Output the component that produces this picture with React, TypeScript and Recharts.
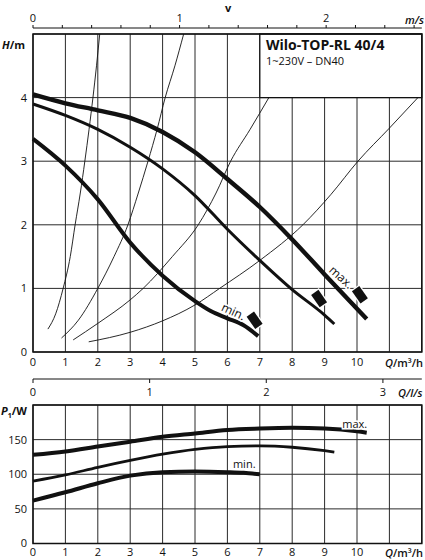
import React from 'react';
import {
  ComposedChart,
  LineChart,
  Line,
  Scatter,
  XAxis,
  YAxis,
  CartesianGrid,
  ReferenceArea,
} from 'recharts';

const Q_MAX = 12;
const H_MAX = 5;
const P_MAX = 200;
const FLOW_AT_1MS = 4.524; // m³/h that gives 1 m/s in DN40
const LS_TO_M3H = 3.6;

const flowTicks = [0, 1, 2, 3, 4, 5, 6, 7, 8, 9, 10, 11, 12];
const headTicks = [0, 1, 2, 3, 4, 5];
const powerTicks = [0, 50, 100, 150, 200];
const velocityTicks = [0, 0.2, 0.4, 0.6, 0.8, 1, 1.2, 1.4, 1.6, 1.8, 2, 2.2, 2.4, 2.6];
const litreTicks = [0, 1, 2, 3];

// pump curves H(Q)
const headMax = [
  { q: 0, h: 4.05 }, { q: 1, h: 3.91 }, { q: 2, h: 3.8 }, { q: 3, h: 3.68 },
  { q: 4, h: 3.46 }, { q: 5, h: 3.14 }, { q: 6, h: 2.72 }, { q: 7, h: 2.28 },
  { q: 8, h: 1.77 }, { q: 9, h: 1.22 }, { q: 10, h: 0.68 }, { q: 10.3, h: 0.52 },
];
const headMid = [
  { q: 0, h: 3.9 }, { q: 1, h: 3.72 }, { q: 2, h: 3.5 }, { q: 3, h: 3.22 },
  { q: 4, h: 2.88 }, { q: 5, h: 2.46 }, { q: 6, h: 1.93 }, { q: 7, h: 1.44 },
  { q: 8, h: 0.98 }, { q: 9, h: 0.58 }, { q: 9.3, h: 0.44 },
];
const headMin = [
  { q: 0, h: 3.35 }, { q: 1, h: 2.93 }, { q: 2, h: 2.4 }, { q: 3, h: 1.72 },
  { q: 4, h: 1.2 }, { q: 5, h: 0.8 }, { q: 5.5, h: 0.64 }, { q: 6, h: 0.53 },
  { q: 6.5, h: 0.42 }, { q: 6.95, h: 0.25 },
];

// system curves
const systemA = [
  { q: 0.46, h: 0.36 }, { q: 0.7, h: 0.6 }, { q: 0.93, h: 1 }, { q: 1.15, h: 1.5 },
  { q: 1.3, h: 2 }, { q: 1.46, h: 2.5 }, { q: 1.6, h: 3 }, { q: 1.73, h: 3.5 },
  { q: 1.85, h: 4 }, { q: 1.96, h: 4.5 }, { q: 2.06, h: 5 },
];
const systemB = [
  { q: 0.88, h: 0.22 }, { q: 1.4, h: 0.5 }, { q: 2, h: 1 }, { q: 2.5, h: 1.5 },
  { q: 2.93, h: 2 }, { q: 3.25, h: 2.5 }, { q: 3.55, h: 3 }, { q: 3.83, h: 3.5 },
  { q: 4.08, h: 4 }, { q: 4.38, h: 4.5 }, { q: 4.65, h: 5 },
];
const systemC = [
  { q: 1.24, h: 0.19 }, { q: 2, h: 0.45 }, { q: 3, h: 0.82 }, { q: 3.4, h: 1 },
  { q: 4.3, h: 1.5 }, { q: 5.1, h: 2 }, { q: 5.65, h: 2.5 }, { q: 6.1, h: 3 },
  { q: 6.7, h: 3.5 }, { q: 7.28, h: 4 },
];
const systemD = [
  { q: 1.72, h: 0.16 }, { q: 3, h: 0.31 }, { q: 4, h: 0.49 }, { q: 5, h: 0.74 },
  { q: 5.76, h: 1 }, { q: 7, h: 1.44 }, { q: 8.33, h: 2 }, { q: 9.2, h: 2.48 },
  { q: 10.03, h: 3 }, { q: 11, h: 3.52 }, { q: 11.88, h: 4 },
];

const limitMarks = [
  { q: 10.09, h: 0.9 }, { q: 8.83, h: 0.84 }, { q: 6.84, h: 0.5 },
];
const headNotes = [
  { q: 9.52, h: 1.18, text: 'max.' },
  { q: 6.19, h: 0.64, text: 'min.' },
];

// power curves P1(Q)
const powerMax = [
  { q: 0, p: 128 }, { q: 1, p: 133 }, { q: 2, p: 140 }, { q: 3, p: 147 },
  { q: 4, p: 154 }, { q: 5, p: 159 }, { q: 6, p: 164 }, { q: 7, p: 166 },
  { q: 8, p: 167 }, { q: 9, p: 166 }, { q: 10, p: 162 }, { q: 10.3, p: 160 },
];
const powerMid = [
  { q: 0, p: 90 }, { q: 1, p: 99 }, { q: 2, p: 110 }, { q: 3, p: 120 },
  { q: 4, p: 129 }, { q: 5, p: 136 }, { q: 6, p: 140 }, { q: 7, p: 141 },
  { q: 8, p: 139 }, { q: 9, p: 134 }, { q: 9.3, p: 132 },
];
const powerMin = [
  { q: 0, p: 62 }, { q: 1, p: 74 }, { q: 2, p: 87 }, { q: 3, p: 98 },
  { q: 4, p: 103 }, { q: 5, p: 104 }, { q: 6, p: 103 }, { q: 6.5, p: 102 }, { q: 7, p: 100 },
];
const powerNotes = [
  { q: 9.93, p: 173, text: 'max.' },
  { q: 6.52, p: 115, text: 'min.' },
];

const FONT = '"Open Sans", sans-serif';
const INK = '#111';
const GRID = '#2a2a2a';
const NOTE_ANGLE: Record<string, number> = { 'max.': 42, 'min.': 25 };
const tickStyle = { fontSize: 11, fill: INK, fontFamily: FONT };

function LimitMark(props: any) {
  const { cx, cy } = props;
  if (cx == null || cy == null) return null;
  return (
    <rect
      x={-4.5}
      y={-7.5}
      width={9}
      height={15}
      transform={`translate(${cx},${cy}) rotate(-35)`}
      fill={INK}
      stroke="#fff"
      strokeWidth={2.5}
      paintOrder="stroke"
    />
  );
}

function makeNote(rotate: boolean) {
  return function Note(props: any) {
    const { cx, cy, payload } = props;
    if (cx == null || cy == null) return null;
    const angle = rotate ? NOTE_ANGLE[payload.text] ?? 0 : 0;
    return (
      <text
        x={cx}
        y={cy}
        transform={`rotate(${angle},${cx},${cy})`}
        textAnchor="middle"
        dominantBaseline="central"
        fontFamily={FONT}
        fontSize={rotate ? 12 : 11}
        fill={INK}
        stroke="#fff"
        strokeWidth={3}
        paintOrder="stroke"
      >
        {payload.text}
      </text>
    );
  };
}

const HeadNote = makeNote(true);
const PowerNote = makeNote(false);

const curve = (w: number) => ({
  type: 'monotone' as const,
  stroke: INK,
  strokeWidth: w,
  dot: false,
  activeDot: false,
  isAnimationActive: false,
});

const overlay = (left: number, top: number, extra: React.CSSProperties = {}): React.CSSProperties => ({
  position: 'absolute',
  left,
  top,
  fontFamily: FONT,
  fontSize: 11,
  lineHeight: 1,
  color: INK,
  whiteSpace: 'nowrap',
  ...extra,
});

// a chart that only carries a secondary scale along the plot width
function ScaleStrip(props: {
  top: number;
  height: number;
  orientation: 'top' | 'bottom';
  max: number;
  ticks: number[];
  tickSize: number;
  tickMargin: number;
  marginTop: number;
  axisHeight: number;
  format?: (v: number) => string;
}) {
  const rows = props.ticks.map((t) => ({ s: t }));
  return (
    <div style={{ position: 'absolute', left: 0, top: props.top }}>
      <LineChart
        width={425}
        height={props.height}
        data={rows}
        margin={{ top: props.marginTop, right: 3.2, bottom: 0, left: 33 }}
      >
        <XAxis
          dataKey="s"
          orientation={props.orientation}
          type="number"
          domain={[0, props.max]}
          ticks={props.ticks}
          interval={0}
          allowDataOverflow
          height={props.axisHeight}
          tickSize={props.tickSize}
          tickMargin={props.tickMargin}
          stroke={INK}
          tick={tickStyle}
          tickFormatter={props.format}
        />
        <YAxis hide domain={[0, 1]} />
        <Line dataKey="s" stroke="transparent" dot={false} activeDot={false} isAnimationActive={false} />
      </LineChart>
    </div>
  );
}

export default function App() {
  const vMax = Q_MAX / FLOW_AT_1MS;
  const lsMax = Q_MAX / LS_TO_M3H;
  return (
    <div style={{ position: 'absolute', left: 0, top: 0, width: 425, height: 560, background: '#fff' }}>
      <ScaleStrip
        top={0}
        height={31}
        orientation="top"
        max={vMax}
        ticks={velocityTicks}
        tickSize={3}
        tickMargin={3.5}
        marginTop={0}
        axisHeight={28}
        format={(v) => (Number.isInteger(v) ? String(v) : '')}
      />

      {/* head chart */}
      <div style={{ position: 'absolute', left: 0, top: 0 }}>
        <ComposedChart width={425} height={372} margin={{ top: 34, right: 3.2, bottom: 0, left: 0 }}>
          <CartesianGrid stroke={GRID} strokeWidth={1} />
          <XAxis
            dataKey="q"
            type="number"
            domain={[0, Q_MAX]}
            ticks={flowTicks}
            interval={0}
            height={20}
            tickLine={false}
            axisLine={false}
            tickSize={0}
            tickMargin={6}
            tick={tickStyle}
            tickFormatter={(v: number) => (v > 10 ? '' : String(v))}
          />
          <YAxis
            type="number"
            domain={[0, H_MAX]}
            ticks={headTicks}
            interval={0}
            width={33}
            tickLine={false}
            axisLine={false}
            tickSize={0}
            tickMargin={6}
            tick={tickStyle}
            tickFormatter={(v: number) => (v >= H_MAX ? '' : String(v))}
          />
          <ReferenceArea x1={7} x2={Q_MAX} y1={4} y2={H_MAX} fill="#fff" fillOpacity={1} stroke={INK} strokeWidth={1.3} />
          <ReferenceArea x1={0} x2={Q_MAX} y1={0} y2={H_MAX} fill="none" stroke={INK} strokeWidth={1.5} />
          <Line data={systemA} dataKey="h" {...curve(0.9)} />
          <Line data={systemB} dataKey="h" {...curve(0.9)} />
          <Line data={systemC} dataKey="h" {...curve(0.9)} />
          <Line data={systemD} dataKey="h" {...curve(0.9)} />
          <Line data={headMin} dataKey="h" {...curve(4)} />
          <Line data={headMid} dataKey="h" {...curve(3)} />
          <Line data={headMax} dataKey="h" {...curve(4.4)} />
          <Scatter data={limitMarks} dataKey="h" shape={LimitMark} isAnimationActive={false} />
          <Scatter data={headNotes} dataKey="h" shape={HeadNote} isAnimationActive={false} />
        </ComposedChart>
      </div>

      <ScaleStrip
        top={375}
        height={26}
        orientation="bottom"
        max={lsMax}
        ticks={litreTicks}
        tickSize={4}
        tickMargin={5}
        marginTop={2}
        axisHeight={22}
      />

      {/* power chart */}
      <div style={{ position: 'absolute', left: 0, top: 400 }}>
        <ComposedChart width={425} height={160} margin={{ top: 5, right: 3.2, bottom: 0, left: 0 }}>
          <CartesianGrid stroke={GRID} strokeWidth={1} />
          <XAxis
            dataKey="q"
            type="number"
            domain={[0, Q_MAX]}
            ticks={flowTicks}
            interval={0}
            height={16.5}
            tickLine={false}
            axisLine={false}
            tickSize={0}
            tickMargin={4.5}
            tick={tickStyle}
            tickFormatter={(v: number) => (v > 10 ? '' : String(v))}
          />
          <YAxis
            type="number"
            domain={[0, P_MAX]}
            ticks={powerTicks}
            interval={0}
            width={33}
            tickLine={false}
            axisLine={false}
            tickSize={0}
            tickMargin={6}
            tick={tickStyle}
            tickFormatter={(v: number) => (v >= P_MAX ? '' : String(v))}
          />
          <ReferenceArea x1={0} x2={Q_MAX} y1={0} y2={P_MAX} fill="none" stroke={INK} strokeWidth={1.5} />
          <Line data={powerMin} dataKey="p" {...curve(4)} />
          <Line data={powerMid} dataKey="p" {...curve(2.8)} />
          <Line data={powerMax} dataKey="p" {...curve(4)} />
          <Scatter data={powerNotes} dataKey="p" shape={PowerNote} isAnimationActive={false} />
        </ComposedChart>
      </div>

      {/* static labels */}
      <span style={overlay(225, 1.5, { fontWeight: 700 })}>v</span>
      <span style={overlay(405, 13.5, { fontStyle: 'italic', fontWeight: 600 })}>m/s</span>
      <span style={overlay(2, 38.5, { fontWeight: 700 })}><i>H</i>/m</span>
      <span style={overlay(266, 38, { fontSize: 14, fontWeight: 700 })}>Wilo-TOP-RL 40/4</span>
      <span style={overlay(266, 55, { fontSize: 11 })}>1~230V – DN40</span>
      <span style={overlay(385, 356.5, { fontWeight: 600 })}><i>Q</i>/m³/h</span>
      <span style={overlay(398, 386.5, { fontWeight: 600, fontStyle: 'italic' })}>Q/l/s</span>
      <span style={overlay(1, 405, { fontWeight: 700 })}><i>P</i><sub style={{ fontSize: 7 }}>1</sub>/W</span>
      <span style={overlay(385, 546.5, { fontWeight: 600 })}><i>Q</i>/m³/h</span>
    </div>
  );
}
